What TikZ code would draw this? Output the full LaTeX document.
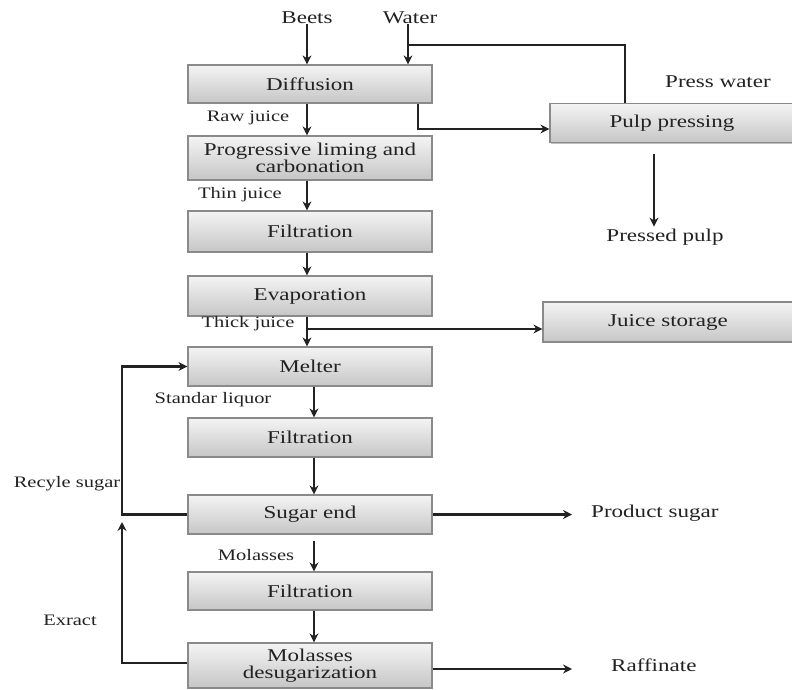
\documentclass[tikz,border=0pt]{standalone}
\usepackage{fontspec}
\setmainfont{Liberation Serif}[FakeStretch=1.28]
\usetikzlibrary{arrows.meta,shadows}
\definecolor{ink}{HTML}{222222}
\definecolor{boxline}{HTML}{8A8A8A}
\definecolor{boxtop}{HTML}{F4F4F4}
\definecolor{boxbot}{HTML}{C6C6C6}
\tikzset{
  stage/.style={draw=boxline, line width=1.2pt, top color=boxtop, bottom color=boxbot,
    minimum width=244pt, inner sep=0pt, align=center, text=ink,
    font=\fontsize{18}{19}\selectfont,
    drop shadow={shadow xshift=1.2pt, shadow yshift=-1.2pt, opacity=0.25, fill=black}},
  lbl/.style={text=ink, inner sep=0pt, font=\fontsize{16}{17}\selectfont},
  biglbl/.style={text=ink, inner sep=0pt, font=\fontsize{18}{19}\selectfont},
  flow/.style={draw=ink, line width=2.4pt, -{Stealth[length=9pt,width=9pt]}},
  pipe/.style={draw=ink, line width=2.4pt}
}
\begin{document}
\begin{tikzpicture}[x=1pt,y=-1pt]
\useasboundingbox (0,0) rectangle (792,690);

% main process column
\node[stage, minimum height=38pt] (diff)  at (310,84)    {Diffusion};
\node[stage, minimum height=44pt] (lime)  at (310,158)   {Progressive liming and\\[-2pt]carbonation};
\node[stage, minimum height=41pt] (filt1) at (310,231.5) {Filtration};
\node[stage, minimum height=40pt] (evap)  at (310,296)   {Evaporation};
\node[stage, minimum height=39pt] (melt)  at (310,366.5) {Melter};
\node[stage, minimum height=39pt] (filt2) at (310,437.5) {Filtration};
\node[stage, minimum height=39pt] (sugar) at (310,514.5) {Sugar end};
\node[stage, minimum height=38pt] (filt3) at (310,591)   {Filtration};
\node[stage, minimum height=45pt] (desug) at (310,665.5) {Molasses\\[-2pt]desugarization};

% side units
\node[stage, minimum height=39pt, minimum width=244pt] (pulp)  at (672,123) {Pulp pressing};
\node[stage, minimum height=40pt, minimum width=250pt] (juice) at (668,322) {Juice storage};

% inputs and outputs
\node[biglbl] (beets) at (307,18) {Beets};
\node[biglbl] (water) at (410,18) {Water};
\node[biglbl] (pwater) at (718,82) {Press water};
\node[biglbl] (ppulp) at (665,237) {Pressed pulp};
\node[biglbl, anchor=west] (prod) at (591,513) {Product sugar};
\node[biglbl, anchor=west] (raff) at (611,665) {Raffinate};

% stream labels
\node[lbl] (rawj)  at (248,118) {Raw juice};
\node[lbl] (thinj) at (240,195) {Thin juice};
\node[lbl] (thickj) at (248,324) {Thick juice};
\node[lbl] (liq)   at (213,400) {Standar liquor};
\node[lbl] (mol)   at (256,555) {Molasses};
\node[lbl] (rsug)  at (67,484)  {Recyle sugar};
\node[lbl] (extr)  at (70,620)  {Exract};

% routing points
\coordinate (colA) at (307,0);
\coordinate (colB) at (314,0);
\coordinate (colW) at (408,0);
\coordinate (colL) at (122,0);
\coordinate (wj) at (408,45);
\coordinate (pw) at (625,45);
\coordinate (dp) at (418,129);
\coordinate (tj) at (307,329);
\coordinate (pp) at (654,0);

% feed streams
\draw[flow] (beets) -- (beets |- diff.north);
\draw[flow] (water.south -| colW) -- (diff.north -| colW);
\draw[pipe] (pulp.north -| pw) -- (pw) -- (wj);

% diffusion to pulp pressing
\draw[flow] (diff.south -| dp) -- (dp) -- (dp -| pulp.west);
\draw[flow, shorten <=11pt, shorten >=2pt] (pulp.south -| pp) -- (ppulp.north -| pp);

% juice line
\draw[flow] (diff.south -| colA) -- (lime.north -| colA);
\draw[flow] (lime.south -| colA) -- (filt1.north -| colA);
\draw[flow] (filt1.south -| colA) -- (evap.north -| colA);
\draw[flow] (evap.south -| colA) -- (melt.north -| colA);
\draw[flow] (tj) -- (tj -| juice.west);

% sugar line
\draw[flow] (melt.south -| colB) -- (filt2.north -| colB);
\draw[flow] (filt2.south -| colB) -- (sugar.north -| colB);
\draw[flow, shorten <=6pt] (sugar.south -| colB) -- (filt3.north -| colB);
\draw[flow] (filt3.south -| colB) -- (desug.north -| colB);

% products
\draw[flow, shorten >=19pt] (sugar.east) -- (sugar.east -| prod.west);
\draw[flow, shorten >=39pt] (desug.east |- 0,669) -- (raff.west |- 0,669);

% recycle loops
\draw[flow] (sugar.west) -| (colL |- melt.west) -- (melt.west);
\draw[flow] (desug.west |- 0,663) -| (colL |- 0,522);
\end{tikzpicture}
\end{document}
